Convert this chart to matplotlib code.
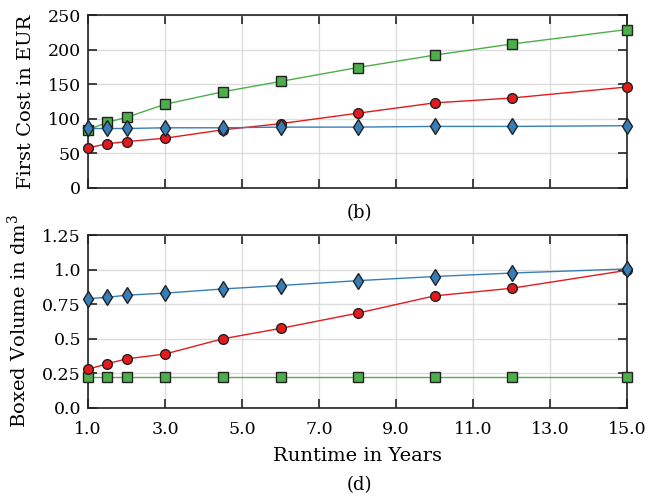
import matplotlib
matplotlib.use('Agg')
from matplotlib import pyplot as plt

# runtime in years
years = [1, 1.5, 2, 3, 4.5, 6, 8, 10, 12, 15]

# first cost in EUR
cost_red = [58, 64, 67, 72, 84, 93, 108, 123, 130, 146]
cost_green = [84, 95, 102, 121, 139, 154, 174, 192, 208, 229]
cost_blue = [86, 86, 86, 87, 87, 88, 88, 89, 89, 90]

# boxed volume in dm^3
vol_red = [0.28, 0.32, 0.355, 0.39, 0.5, 0.575, 0.685, 0.81, 0.865, 0.995]
vol_green = [0.225, 0.225, 0.225, 0.225, 0.225, 0.225, 0.225, 0.225, 0.225, 0.225]
vol_blue = [0.79, 0.80, 0.815, 0.83, 0.86, 0.885, 0.92, 0.95, 0.975, 1.005]

xticks = [1, 3, 5, 7, 9, 11, 13, 15]
xlabels = ['1.0', '3.0', '5.0', '7.0', '9.0', '11.0', '13.0', '15.0']
vticks = [0, 0.25, 0.5, 0.75, 1.0, 1.25]
vlabels = ['0.0', '0.25', '0.5', '0.75', '1.0', '1.25']

red, green, blue = '#e41a1c', '#4daf4a', '#377eb8'

plt.rcParams['font.family'] = 'DejaVu Serif'
plt.rcParams['mathtext.fontset'] = 'dejavuserif'
plt.rcParams['font.size'] = 12.5
plt.rcParams['axes.labelsize'] = 14

fig = plt.figure(figsize=(6.58, 4.96), dpi=100)
ax1 = fig.add_axes([88 / 658, 1 - 188 / 496, 539 / 658, 173 / 496])
ax2 = fig.add_axes([88 / 658, 1 - 408 / 496, 539 / 658, 173 / 496])


def draw(ax, r, g, b):
    ax.plot(years, g, c=green, lw=1, marker='s', ms=6.5, mfc=green, mec='#222222', mew=1, zorder=3)
    ax.plot(years, r, c=red, lw=1, marker='o', ms=7, mfc=red, mec='#222222', mew=1, zorder=3)
    ax.plot(years, b, c=blue, lw=1, marker='d', ms=8, mfc=blue, mec='#222222', mew=1, zorder=3)
    ax.set_xlim(1, 15)
    ax.set_xticks(xticks)
    ax.grid(True, color='#dddddd', lw=1)
    ax.set_axisbelow(True)
    ax.tick_params(direction='in', top=True, right=True, length=6.5, width=1.3, color='#333333')
    ax.tick_params(axis='x', pad=9)
    ax.tick_params(axis='y', pad=5)
    for s in ax.spines.values():
        s.set_linewidth(1.2)
        s.set_color('#222222')
    for line in ax.get_lines():
        line.set_clip_on(False)


draw(ax1, cost_red, cost_green, cost_blue)
ax1.set_ylim(0, 250)
ax1.set_yticks([0, 50, 100, 150, 200, 250])
ax1.set_xticklabels([])
ax1.set_ylabel('First Cost in EUR', labelpad=9)
fig.text(0.546, 1 - 213 / 496, '(b)', ha='center', va='center', fontsize=13)

draw(ax2, vol_red, vol_green, vol_blue)
ax2.set_ylim(0, 1.25)
ax2.set_yticks(vticks)
ax2.set_yticklabels(vlabels)
ax2.set_xticklabels(xlabels)
ax2.set_ylabel('Boxed Volume in dm$^3$', labelpad=9)
ax2.set_xlabel('Runtime in Years', labelpad=7)
fig.text(0.546, 1 - 485 / 496, '(d)', ha='center', va='center', fontsize=13)

fig.savefig('out.png', dpi=100)
